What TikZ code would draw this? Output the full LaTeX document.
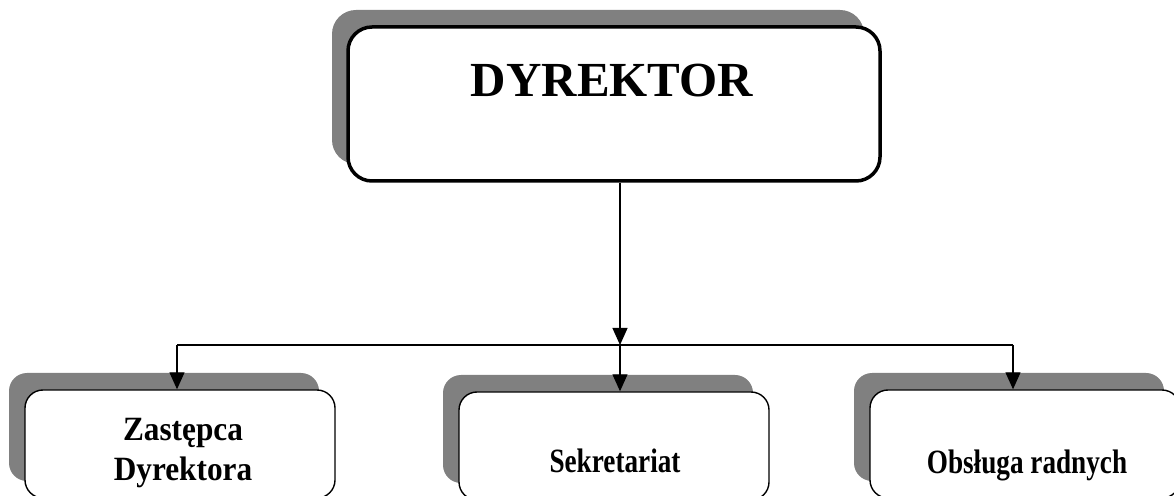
\documentclass[tikz,border=0pt]{standalone}
\usepackage{fontspec}
\setmainfont{Liberation Serif}
\usetikzlibrary{shadows,arrows.meta}
\definecolor{shadowgray}{HTML}{808080}
\begin{document}
\begin{tikzpicture}[x=1pt,y=1pt,
  shadowed/.style={draw=black, fill=white, inner sep=0pt,
    drop shadow={shadow xshift=-16pt, shadow yshift=17pt, fill=shadowgray, opacity=1}},
  topbox/.style={shadowed, line width=3.5pt, rounded corners=24pt,
    minimum width=532pt, minimum height=154pt},
  subbox/.style={shadowed, line width=1.4pt, rounded corners=18pt,
    minimum width=310pt, minimum height=108pt},
  conn/.style={line width=1.2pt, -{Triangle[length=17pt,width=15pt]}},
  plain/.style={line width=1.2pt},
  bigtxt/.style={anchor=base, inner sep=0pt, font=\bfseries\fontsize{49}{49}\selectfont},
  subtxt/.style={anchor=base, inner sep=0pt, font=\bfseries\fontsize{34}{34}\selectfont},
]
\useasboundingbox (0,0) rectangle (1174,495);
\clip (0,0) rectangle (1174,495);

% boxes
\node[topbox] (dyr) at (614,391) {};
\node[subbox] (zast) at (180,51) {};
\node[subbox] (sekr) at (614,49) {};
\node[subbox] (obsl) at (1025,51) {};

% texts
\node[bigtxt] (tdyr) at (612,398) {DYREKTOR};
\node[subtxt] (tzast1) at (183,55) {\scalebox{0.92}[1]{Zastępca}};
\node[subtxt] (tzast2) at (183,15) {\scalebox{0.92}[1]{Dyrektora}};
\node[subtxt] (tsekr) at (615,23) {\scalebox{0.8}[1]{Sekretariat}};
\node[subtxt] (tobsl) at (1027,22) {\scalebox{0.8}[1]{Obsługa radnych}};

% connectors
\coordinate (j1) at (177,150);
\coordinate (j2) at (620,150);
\coordinate (j3) at (1013,150);
\draw[conn] (dyr.south -| j2) -- (j2);
\draw[plain] (j1) -- (j3);
\draw[conn] (j1) -- (j1 |- zast.north);
\draw[conn] (j2) -- (j2 |- sekr.north);
\draw[conn] (j3) -- (j3 |- obsl.north);
\end{tikzpicture}
\end{document}
